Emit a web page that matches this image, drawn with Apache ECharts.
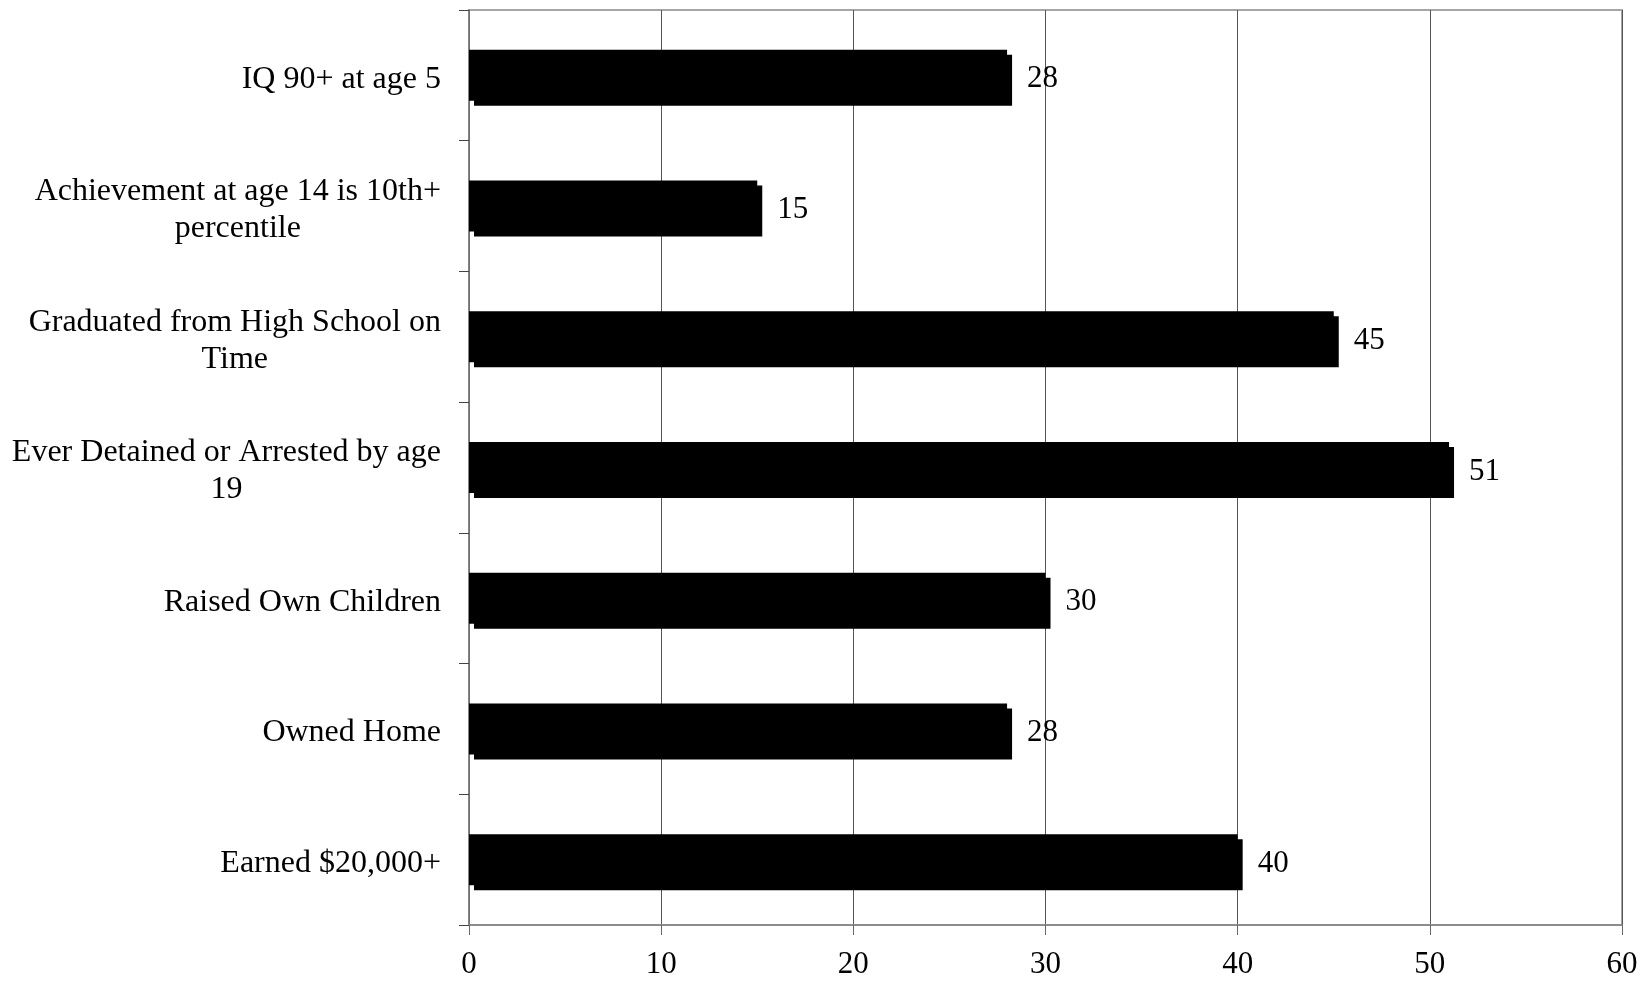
<!DOCTYPE html>
<html>
<head>
<meta charset="utf-8">
<script src="https://cdn.jsdelivr.net/npm/echarts@6/dist/echarts.min.js"></script>
<style>
html,body{margin:0;padding:0;background:#fff;}
#chart{width:1652px;height:981px;}
</style>
</head>
<body>
<div id="chart"></div>
<script>
var categories = [
  'IQ 90+ at age 5',
  'Achievement at age 14 is 10th+\npercentile',
  'Graduated from High School on\nTime',
  'Ever Detained or Arrested by age\n19',
  'Raised Own Children',
  'Owned Home',
  'Earned $20,000+'
];
var values = [28, 15, 45, 51, 30, 28, 40];
var xTicks = { min: 0, max: 60, interval: 10 };

var FONT = '"Liberation Serif", "Times New Roman", serif';
var chart = echarts.init(document.getElementById('chart'));
chart.setOption({
  animation: false,
  grid: {
    left: 469, right: 30, top: 10, bottom: 56,
    show: true, borderColor: '#a6a6a6', borderWidth: 2, backgroundColor: 'transparent'
  },
  xAxis: {
    type: 'value',
    min: xTicks.min, max: xTicks.max, interval: xTicks.interval,
    axisLine: { show: true, lineStyle: { color: '#8c8c8c', width: 2 } },
    axisTick: { show: true, length: 10, lineStyle: { color: '#666', width: 1 } },
    axisLabel: { margin: 24, fontFamily: FONT, fontSize: 31, color: '#000' },
    splitLine: { show: true, lineStyle: { color: '#555', width: 1 } }
  },
  yAxis: {
    type: 'category',
    inverse: true,
    data: categories,
    axisLine: { show: true, lineStyle: { color: '#7a7a7a', width: 1.5 } },
    axisTick: { show: true, length: 10, interval: 0, lineStyle: { color: '#444', width: 1 } },
    axisLabel: {
      margin: 28,
      interval: 0,
      padding: [8, 0, 0, 0],
      fontFamily: FONT, fontSize: 32, color: '#000', lineHeight: 37,
      formatter: function (v) {
        return v.split('\n').map(function (l) { return '{c|' + l + '}'; }).join('\n');
      },
      rich: { c: { align: 'center', fontFamily: FONT, fontSize: 32, color: '#000', lineHeight: 37 } }
    },
    splitLine: { show: false }
  },
  series: [{
    type: 'bar',
    data: values,
    barCategoryGap: '61%',
    itemStyle: {
      color: '#000',
      shadowColor: '#000', shadowBlur: 0, shadowOffsetX: 5, shadowOffsetY: 5
    },
    label: {
      show: true, position: 'right', distance: 20, offset: [0, 4],
      fontFamily: FONT, fontSize: 31, color: '#000'
    }
  }]
});
</script>
</body>
</html>
